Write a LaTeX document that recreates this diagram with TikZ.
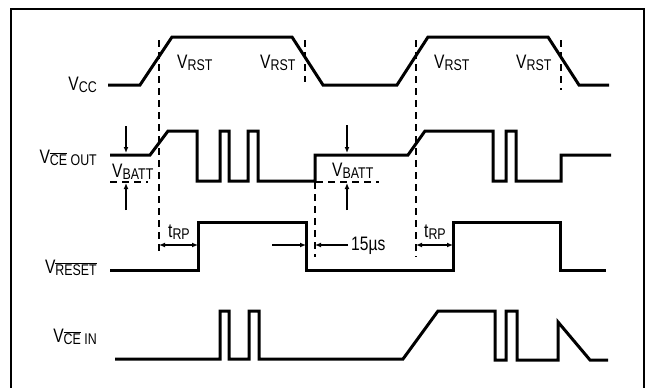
\documentclass[tikz,border=0pt]{standalone}
\usepackage{fontspec}
\setmainfont{Liberation Sans}[FakeStretch=0.8]
\usetikzlibrary{arrows.meta}
\newcommand\bigsz{\fontsize{19.5}{19.5}\selectfont}
\newcommand\smsz{\fontsize{15.5}{15.5}\selectfont}
\newcommand\lsub[1]{\raisebox{-2pt}{\smsz #1}}
\newcommand\ovl[1]{$\overline{\hbox{#1}}$}
\begin{document}
\begin{tikzpicture}[x=1pt,y=-1pt,
  wave/.style={line width=3pt, line join=miter},
  guide/.style={line width=1.2pt, dash pattern=on 7pt off 5pt},
  dim/.style={line width=1.2pt, -{Latex[length=6pt,width=5pt]}},
  ddim/.style={line width=1.2pt, {Latex[length=6pt,width=5pt]}-{Latex[length=6pt,width=5pt]}},
  lbl/.style={inner sep=0pt, font=\bigsz}]
\useasboundingbox (0,0) rectangle (646,388);
\draw[line width=1.8pt] (11,390) -- (11,9) -- (644,9) -- (644,390);

% signal labels
\node[lbl, anchor=base east] (lvcc) at (97,90) {V\lsub{CC}};
\node[lbl, anchor=base east] (lceo) at (97,163) {V\lsub{\ovl{CE} OUT}};
\node[lbl, anchor=base east] (lrst) at (97,273) {V\lsub{\ovl{RESET}}};
\node[lbl, anchor=base east] (lcei) at (97,342) {V\lsub{\ovl{CE} IN}};

% VRST labels
\node[lbl, anchor=base west] (r1) at (177,68) {V\lsub{RST}};
\node[lbl, anchor=base west] (r2) at (260,68) {V\lsub{RST}};
\node[lbl, anchor=base west] (r3) at (434,68) {V\lsub{RST}};
\node[lbl, anchor=base west] (r4) at (516,68) {V\lsub{RST}};

% waveforms
\draw[wave] (108,85)--(140,85)--(172,37)--(292,37)--(323,85)--(397,85)--(428,37)--(548,37)--(579,85)--(609,85);
\draw[wave] (110,155)--(150,155)--(168,131)--(197,131)--(197,181)--(220,181)--(220,131)--(229,131)--(229,181)--(248,181)--(248,131)--(258,131)--(258,181)--(315,181)--(315,155)--(408,155)--(425,131)--(493,131)--(493,181)--(506,181)--(506,131)--(516,131)--(516,181)--(561,181)--(561,155)--(611,155);
\draw[wave] (110,270)--(198,270)--(198,222)--(306,222)--(306,270)--(453,270)--(453,222)--(560,222)--(560,270)--(606,270);
\draw[wave] (115,359)--(220,359)--(220,311)--(229,311)--(229,359)--(249,359)--(249,311)--(259,311)--(259,359)--(403,359)--(438,311)--(495,311)--(495,360)--(506,360)--(506,311)--(517,311)--(517,360)--(558,360)--(558,322)--(590,360)--(608,360);

% guide lines
\draw[guide] (159,40) -- (159,253);
\draw[guide] (305,40) -- (305,82);
\draw[guide] (416,40) -- (416,257);
\draw[guide] (561,40) -- (561,90);
\draw[guide] (315,182) -- (315,257);
\draw[guide] (110,182) -- (148,182);
\draw[guide] (316,182) -- (379,182);

% VBATT annotations
\coordinate (b1t) at (126,126); \coordinate (b1m) at (126,153);
\coordinate (b1b) at (126,210); \coordinate (b1d) at (126,183);
\draw[dim] (b1t) -- (b1m);
\draw[dim] (b1b) -- (b1d);
\node[lbl, anchor=base west] (vb1) at (112,177) {V\lsub{BATT}};
\coordinate (b2t) at (347,125); \coordinate (b2m) at (347,153);
\coordinate (b2b) at (347,210); \coordinate (b2d) at (347,183);
\draw[dim] (b2t) -- (b2m);
\draw[dim] (b2b) -- (b2d);
\node[lbl, anchor=base west] (vb2) at (332,176) {V\lsub{BATT}};

% timing annotations
\coordinate (t1a) at (159,245); \coordinate (t1b) at (198,245);
\draw[ddim] (t1a) -- (t1b);
\node[lbl, anchor=base west] (trp1) at (168,237) {t\lsub{RP}};
\coordinate (f1a) at (272,245); \coordinate (f1b) at (306,245);
\draw[dim] (f1a) -- (f1b);
\coordinate (f2a) at (348,245); \coordinate (f2b) at (315,245);
\draw[dim] (f2a) -- (f2b);
\node[lbl, anchor=base west] (t15) at (351,250) {15µs};
\coordinate (t2a) at (416,245); \coordinate (t2b) at (453,245);
\draw[ddim] (t2a) -- (t2b);
\node[lbl, anchor=base west] (trp2) at (424,237) {t\lsub{RP}};
\end{tikzpicture}
\end{document}
